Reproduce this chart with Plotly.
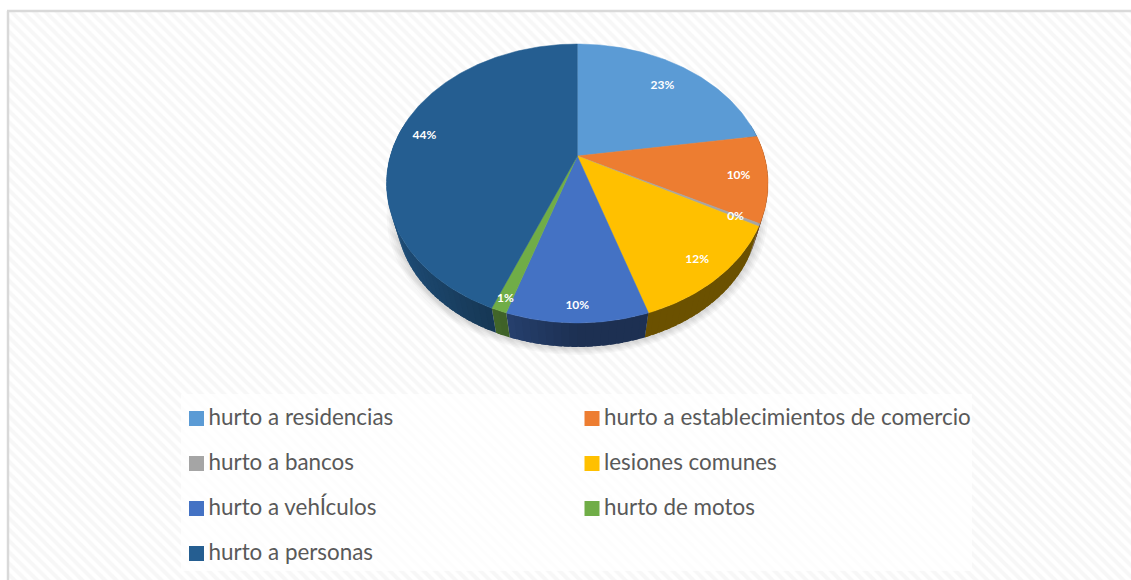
"""Crime share pie with a perspective tilt, drawn from filled scatter wedges."""

import numpy as np
import plotly.graph_objects as go

CATEGORIES = [
    "hurto a residencias",
    "hurto a establecimientos de comercio",
    "hurto a bancos",
    "lesiones comunes",
    "hurto a vehÍculos",
    "hurto de motos",
    "hurto a personas",
]
SHARES = [22.6, 10.0, 0.3, 12.1, 10.0, 1.1, 43.9]
COLORS = ["#5B9BD5", "#ED7D31", "#A5A5A5", "#FFC000", "#4472C4", "#70AD47", "#255E91"]

W, H = 1131, 580
CX = 577.3
# perspective of the disc: y = (A*v + B) / (C*v + 1), x = CX + K*u / (C*v + 1)
A, B, C, K = -103.3, 156.0, 0.197, 187.0
ELLIPSE_Y = 183.5
RIM_SCALE, RIM_Y = 0.95, 214.5
LABEL_RADII = [0.78, 0.85, 0.88, 0.87, 0.91, 0.93, 0.86]
FONT = "Lato, sans-serif"


def disc(r, theta):
    """Project polar disc coords (theta in degrees, clockwise from north) to the page."""
    t = np.radians(theta)
    u, v = r * np.sin(t), r * np.cos(t)
    d = C * v + 1
    return CX + K * u / d, (A * v + B) / d


def rim(theta, grow=0.0):
    x, y = disc(1.0, theta)
    s = RIM_SCALE + grow
    return CX + s * (x - CX), RIM_Y + s * (y - ELLIPSE_Y)


def shade(color, f):
    rgb = [int(color[i:i + 2], 16) for i in (1, 3, 5)]
    return "rgb({},{},{})".format(*[round(c * f) for c in rgb])


def poly(x, y, color, width=0.5):
    return go.Scatter(x=x, y=y, mode="lines", fill="toself", fillcolor=color,
                      line=dict(color=color, width=width), hoverinfo="skip", showlegend=False)


fig = go.Figure()

# hatched page and the paler legend panel
fig.add_trace(go.Bar(x=[(9 + W) / 2], y=[H - 12], base=[12], width=[W - 9], hoverinfo="skip",
                     marker=dict(color="#ffffff", line_width=0,
                                 pattern=dict(shape="\\", fgcolor="#f0f0f0", bgcolor="#ffffff",
                                              size=8, solidity=0.5))))
fig.add_trace(go.Bar(x=[576.5], y=[177], base=[394], width=[791], hoverinfo="skip",
                     marker=dict(color="rgba(255,255,255,0.78)", line_width=0)))

# soft shadow under the pie
ring = np.arange(0, 361, 3)
for grow in (0.05, 0.04, 0.03, 0.02, 0.01):
    sx, sy = rim(ring, grow)
    fig.add_trace(go.Scatter(x=sx, y=sy + 1, mode="lines", fill="toself", line_width=0,
                             fillcolor="rgba(0,0,0,0.028)", hoverinfo="skip", showlegend=False))

edges = np.concatenate([[0], np.cumsum(SHARES)]) * 3.6

# side wall, shaded in short overlapping strips so it lightens towards the left
for start, end, color in zip(edges[:-1], edges[1:], COLORS):
    cuts = np.append(np.arange(start, end, 2.0), end)
    for a, b in zip(cuts[:-1], cuts[1:]):
        mid = (a + b) / 2
        if np.cos(np.radians(mid)) > 0.25:
            continue
        arc = np.array([a, (a + min(b + 1.5, end)) / 2, min(b + 1.5, end)])
        tx, ty = disc(1.0, arc)
        bx, by = rim(arc)
        f = 0.42 + 0.45 * max(0.0, -np.sin(np.radians(mid)))
        fig.add_trace(poly(np.r_[tx, bx[::-1]], np.r_[ty, by[::-1]], shade(color, f), width=0))

# top face
for start, end, color in zip(edges[:-1], edges[1:], COLORS):
    arc = np.linspace(start, end, max(2, int(end - start) + 2))
    ax, ay = disc(1.0, arc)
    ox, oy = disc(0.0, 0.0)
    fig.add_trace(poly(np.r_[ox, ax, ox], np.r_[oy, ay, oy], color))

# percent labels
mids = (edges[:-1] + edges[1:]) / 2
lx, ly = disc(np.array(LABEL_RADII), mids)
fig.add_trace(go.Scatter(x=lx, y=ly + 1, mode="text", text=[f"{round(s)}%" for s in SHARES],
                         textposition="middle center", hoverinfo="skip", showlegend=False,
                         textfont=dict(family=FONT, size=12, color="#ffffff", weight="bold")))

# legend, two columns, filled row by row
leg_x = [196.5 if i % 2 == 0 else 592 for i in range(len(CATEGORIES))]
leg_y = [418.5 + 45 * (i // 2) for i in range(len(CATEGORIES))]
fig.add_trace(go.Scatter(x=leg_x, y=leg_y, mode="markers", hoverinfo="skip", showlegend=False,
                         marker=dict(symbol="square", size=15, color=COLORS, line_width=0)))
fig.add_trace(go.Scatter(x=[v + 12 for v in leg_x], y=[v + 1 for v in leg_y], mode="text",
                         text=CATEGORIES, textposition="middle right", hoverinfo="skip",
                         showlegend=False,
                         textfont=dict(family=FONT, size=22.4, color="#595959")))

# chart frame: only left and top show, the rest is cropped
fig.add_shape(type="line", x0=8, x1=8, y0=11, y1=H, line=dict(color="#d9d9d9", width=2.5))
fig.add_shape(type="line", x0=7, x1=W, y0=11, y1=11, line=dict(color="#d9d9d9", width=2.5))

fig.update_layout(
    width=W, height=H, margin=dict(l=0, r=0, t=0, b=0),
    paper_bgcolor="#ffffff", plot_bgcolor="#ffffff",
    barmode="overlay", showlegend=False,
    xaxis=dict(range=[0, W], visible=False, fixedrange=True),
    yaxis=dict(range=[H, 0], visible=False, fixedrange=True),
)

fig.write_html("out.html", config=dict(displayModeBar=False),
               post_script="document.body.style.margin='0';")
